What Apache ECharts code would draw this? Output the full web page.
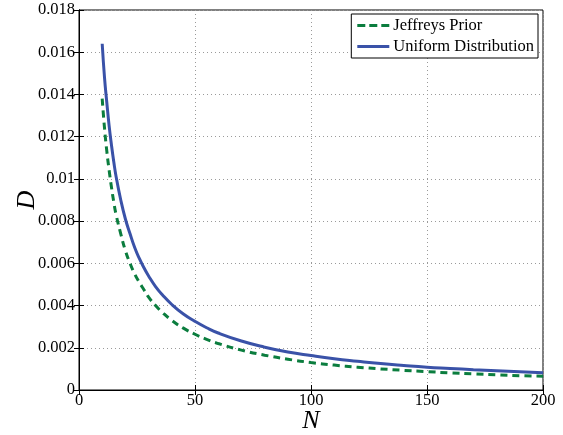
<!DOCTYPE html>
<html><head><meta charset="utf-8">
<script src="https://cdn.jsdelivr.net/npm/echarts@6/dist/echarts.min.js"></script>
<style>html,body{margin:0;padding:0;background:#fff}#c{width:563px;height:435px}</style>
</head><body><div id="c"></div>
<script>
const nValues = [10,11,12,13,14,15,16,18,20,22,24,26,28,30,33,36,40,45,50,55,60,70,80,90,100,110,120,130,140,150,160,170,180,190,200];
const jeffreys = [0.0138,0.0124,0.0113,0.0104,0.0096,0.0089,0.0083,0.0074,0.0066,0.0060,0.0055,0.0051,0.00475,0.0044,0.0040,0.00367,0.0033,0.00293,0.00264,0.0024,0.0022,0.00189,0.00165,0.00146,0.0013,0.00118,0.00108,0.0010,0.00093,0.00087,0.00081,0.00076,0.00072,0.00068,0.00065];
const uniform = [0.0164,0.0148,0.0136,0.0125,0.0116,0.0108,0.0101,0.0090,0.0081,0.0074,0.00675,0.00623,0.00579,0.0054,0.0049,0.0045,0.00405,0.0036,0.00325,0.00295,0.0027,0.00232,0.00203,0.0018,0.00163,0.00148,0.00136,0.00125,0.00116,0.00108,0.00102,0.00096,0.00091,0.00086,0.00082];
const seriesNames = ['Jeffreys Prior','Uniform Distribution'];
const xTicks = {min:0, max:200, interval:50};
const yTicks = {min:0, max:0.018, interval:0.002};

const font = 'Liberation Serif';
const chart = echarts.init(document.getElementById('c'), null, {renderer:'canvas'});
const pairs = arr => nValues.map((n,i)=>[n, arr[i]]);
const gridLine = {show:true, lineStyle:{color:'#9a9a9a', type:[1,3], width:1}};
chart.setOption({
  animation:false,
  backgroundColor:'#fff',
  grid:{left:79, right:20, top:10, bottom:45, outerBoundsMode:'none', containLabel:false,
        show:true, borderColor:'#000', borderWidth:1, backgroundColor:'transparent'},
  legend:{
    orient:'vertical', right:25, top:14, itemWidth:32, itemHeight:3, itemGap:4,
    borderColor:'#000', borderWidth:1, backgroundColor:'#fff', padding:[3,4,3,6],
    textStyle:{fontFamily:font, fontSize:16.5, color:'#000', padding:[0,0,0,-1]},
    data:[
      {name:seriesNames[0], icon:'path://M0,0h8v3h-8z M12,0h8v3h-8z M24,0h8v3h-8z', itemStyle:{color:'#0b7d3e'}},
      {name:seriesNames[1], icon:'path://M0,0h32v3h-32z', itemStyle:{color:'#3a52a8'}}
    ]
  },
  xAxis:[{
    type:'value', min:xTicks.min, max:xTicks.max, interval:xTicks.interval,
    name:'N', nameLocation:'middle', nameGap:18, nameMoveOverlap:false,
    nameTextStyle:{fontFamily:font, fontStyle:'italic', fontSize:26, color:'#000'},
    axisLine:{show:true, lineStyle:{color:'#000', width:1}},
    axisTick:{show:true, inside:true, length:5, lineStyle:{color:'#000'}},
    axisLabel:{fontFamily:font, fontSize:16.5, color:'#000', margin:2},
    splitLine:gridLine
  },{
    type:'value', position:'top', min:xTicks.min, max:xTicks.max, interval:xTicks.interval,
    axisLine:{show:true, lineStyle:{color:'#000'}},
    axisTick:{show:true, inside:true, length:5, lineStyle:{color:'#000'}},
    axisLabel:{show:false}, splitLine:{show:false}
  }],
  yAxis:[{
    type:'value', min:yTicks.min, max:yTicks.max, interval:yTicks.interval,
    name:'D', nameLocation:'middle', nameGap:39, nameMoveOverlap:false,
    nameTextStyle:{fontFamily:font, fontStyle:'italic', fontSize:26, color:'#000'},
    axisLine:{show:true, lineStyle:{color:'#000', width:1}},
    axisTick:{show:true, inside:true, length:5, lineStyle:{color:'#000'}},
    axisLabel:{fontFamily:font, fontSize:16.5, color:'#000', margin:4},
    splitLine:gridLine
  },{
    type:'value', position:'right', min:yTicks.min, max:yTicks.max, interval:yTicks.interval,
    axisLine:{show:true, lineStyle:{color:'#000'}},
    axisTick:{show:true, inside:true, length:5, lineStyle:{color:'#000'}},
    axisLabel:{show:false}, splitLine:{show:false}
  }],
  series:[
    {name:seriesNames[0], type:'line', data:pairs(jeffreys), smooth:true, symbol:'none',
     color:'#0b7d3e', lineStyle:{color:'#0b7d3e', width:3, type:[7,5]}},
    {name:seriesNames[1], type:'line', data:pairs(uniform), smooth:true, symbol:'none',
     color:'#3a52a8', lineStyle:{color:'#3a52a8', width:3}}
  ]
});
</script></body></html>
